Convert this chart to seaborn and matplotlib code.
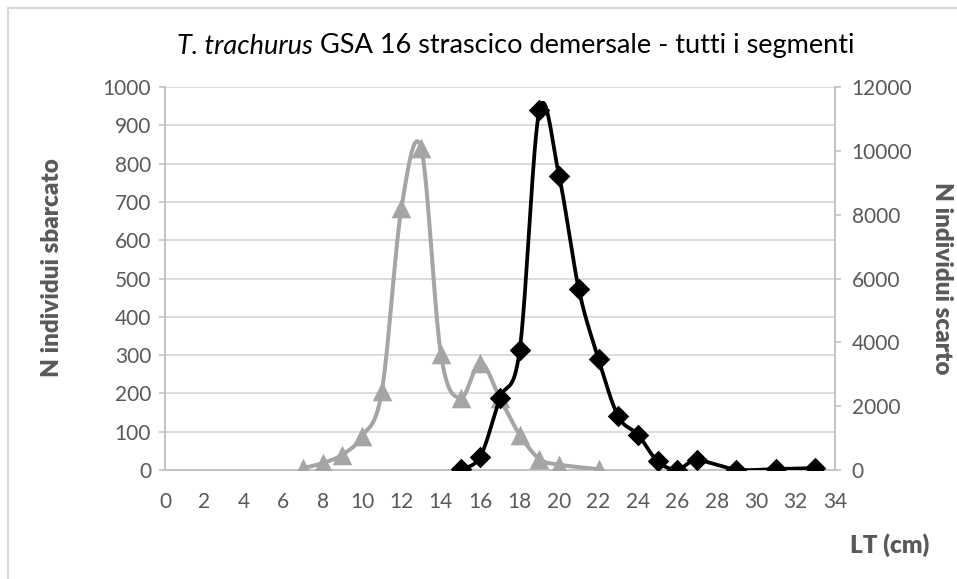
import numpy as np
import matplotlib
matplotlib.use("Agg")
import matplotlib.pyplot as plt
import seaborn as sns
import pandas as pd
from matplotlib.patches import Rectangle

# ---- data ----
x_land = [7, 8, 9, 10, 11, 12, 13, 14, 15, 16, 17, 18, 19, 20, 22]
land = [5, 18, 40, 88, 205, 685, 840, 302, 188, 280, 187, 92, 29, 14, 2]
x_disc = [15, 16, 17, 18, 19, 20, 21, 22, 23, 24, 25, 26, 27, 29, 31, 33]
disc = [30, 420, 2250, 3760, 11280, 9210, 5660, 3480, 1680, 1110, 270, 15, 300, 15, 30, 60]

title_italic = "T. trachurus"
title_rest = " GSA 16 strascico demersale - tutti i segmenti"
ylabel_left = "N individui sbarcato"
ylabel_right = "N individui scarto"
xlabel = "LT (cm)"
x_ticks = list(range(0, 35, 2))
left_ticks = list(range(0, 1001, 100))
right_ticks = list(range(0, 12001, 2000))


def excel_smooth(xs, ys, n=30):
    P = np.column_stack([xs, ys]).astype(float)
    m = len(P)
    out = []
    for i in range(m - 1):
        p0 = P[i]
        p3 = P[i + 1]
        pm = P[i - 1] if i > 0 else P[i]
        pp = P[i + 2] if i + 2 < m else P[i + 1]
        c1 = p0 + (p3 - pm) / 6.0
        c2 = p3 - (pp - p0) / 6.0
        t = np.linspace(0, 1, n)[:, None]
        seg = ((1 - t) ** 3) * p0 + 3 * ((1 - t) ** 2) * t * c1 + 3 * (1 - t) * t ** 2 * c2 + t ** 3 * p3
        if i > 0:
            seg = seg[1:]
        out.append(seg)
    out = np.vstack(out)
    return out[:, 0], out[:, 1]


sns.set_theme(style="white")
plt.rcParams["font.family"] = ["Lato", "DejaVu Sans"]

TXT = "#595959"
AX = "#bfbfbf"
GRID = "#d9d9d9"
GRAY = "#a5a5a5"

fig = plt.figure(figsize=(9.57, 5.79), dpi=100)
ax = fig.add_axes([165 / 957, 1 - 470 / 579, (835 - 165) / 957, (470 - 87) / 579])
ax2 = ax.twinx()

# landed (left axis)
sx, sy = excel_smooth(x_land, land)
sns.lineplot(x=sx, y=sy, ax=ax, color=GRAY, lw=2.9, sort=False, estimator=None, zorder=3)
sns.scatterplot(x=x_land, y=land, ax=ax, marker="^", s=200, color=GRAY, edgecolor=GRAY, linewidth=0, zorder=4)

# discarded (right axis)
dx, dy = excel_smooth(x_disc, disc)
sns.lineplot(x=dx, y=dy, ax=ax2, color="black", lw=2.7, sort=False, estimator=None, zorder=3)
sns.scatterplot(x=x_disc, y=disc, ax=ax2, marker="D", s=120, color="black", edgecolor="black", linewidth=0, zorder=4)

ax.set_xlim(0, 34)
ax.set_ylim(0, 1000)
ax2.set_ylim(0, 12000)
ax.set_xticks(x_ticks)
ax.set_yticks(left_ticks)
ax2.set_yticks(right_ticks)
ax.set_xticklabels([str(v) for v in x_ticks])
ax.set_yticklabels([str(v) for v in left_ticks])
ax2.set_yticklabels([str(v) for v in right_ticks])

ax.grid(axis="y", color=GRID, lw=1.3)
ax.grid(axis="x", visible=False)
ax2.grid(False)
ax.set_axisbelow(True)

for a in (ax, ax2):
    for s in a.spines.values():
        s.set_visible(False)
ax.spines["left"].set_visible(True)
ax.spines["left"].set_color(AX)
ax.spines["left"].set_linewidth(1.3)
ax.spines["bottom"].set_visible(True)
ax.spines["bottom"].set_color(AX)
ax.spines["bottom"].set_linewidth(1.3)
ax2.spines["right"].set_visible(True)
ax2.spines["right"].set_color(AX)
ax2.spines["right"].set_linewidth(1.3)

ax.tick_params(axis="y", left=True, length=4, width=1.1, color=AX, labelcolor=TXT, labelsize=15, pad=6)
ax.tick_params(axis="x", bottom=False, length=0, labelcolor=TXT, labelsize=15, pad=16)
ax2.tick_params(axis="y", right=True, length=4, width=1.1, color=AX, labelcolor=TXT, labelsize=15, pad=8)

ax.set_xlabel("")
ax.set_ylabel("")
ax2.set_ylabel("")

fig.text(52 / 957, 1 - 268 / 579, ylabel_left, rotation=90, ha="center", va="center",
         fontsize=17.5, fontweight="heavy", color=TXT)
fig.text(942 / 957, 1 - 278 / 579, ylabel_right, rotation=270, ha="center", va="center",
         fontsize=17.5, fontweight="heavy", color=TXT)
fig.text(890 / 957, 1 - 545 / 579, xlabel, ha="center", va="center",
         fontsize=17.5, fontweight="heavy", color=TXT)

# title: italic part + regular part
t1 = fig.text(177 / 957, 1 - 46 / 579, title_italic, ha="left", va="center", fontsize=19.5,
              fontstyle="italic", color="black")
fig.canvas.draw()
bb = t1.get_window_extent()
fig.text(bb.x1 / fig.bbox.width, 1 - 46 / 579, title_rest, ha="left", va="center", fontsize=19.5,
         color="black")

fig.patches.append(Rectangle((8 / 957, -0.1), 1.2, 1 - 8 / 579 + 0.1, transform=fig.transFigure,
                             fill=False, edgecolor=GRID, lw=1.6))

fig.savefig("out.png", dpi=100)
